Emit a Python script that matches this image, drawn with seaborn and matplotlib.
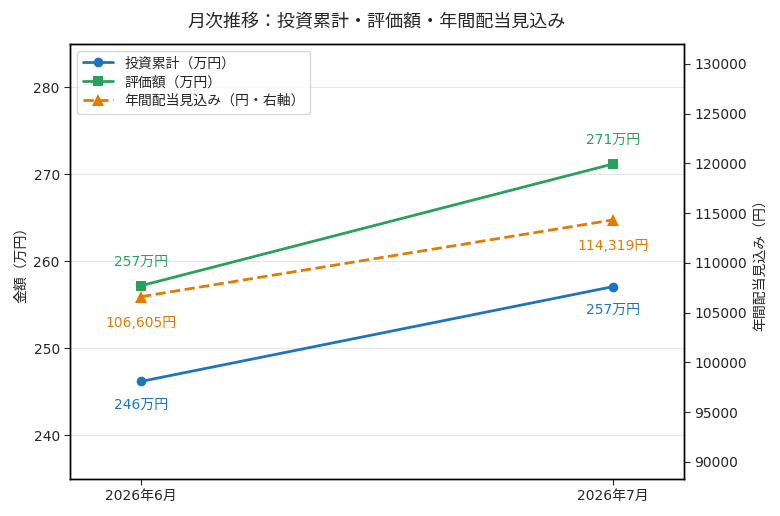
import pandas as pd
import matplotlib.pyplot as plt
import seaborn as sns

# chart data
months = ['2026年6月', '2026年7月']
invested = [246.2, 257.1]          # 投資累計 (万円)
valuation = [257.2, 271.2]         # 評価額 (万円)
dividend = [106605, 114319]        # 年間配当見込み (円)

sns.set_style('white')
plt.rcParams['font.family'] = ['DejaVu Sans', 'Noto Sans CJK JP']
plt.rcParams['axes.unicode_minus'] = False

blue = '#1f74c2'
green = '#2ba05b'
orange = '#e37b00'

df = pd.DataFrame({'month': months, 'invested': invested,
                   'valuation': valuation, 'dividend': dividend})

fig, ax = plt.subplots(figsize=(7.8, 5.16), dpi=100)
ax2 = ax.twinx()

sns.lineplot(data=df, x='month', y='invested', ax=ax, color=blue, marker='o',
             markersize=7, linewidth=2, markeredgewidth=0, label='投資累計（万円）', legend=False)
sns.lineplot(data=df, x='month', y='valuation', ax=ax, color=green, marker='s',
             markersize=7, linewidth=2, markeredgewidth=0, label='評価額（万円）', legend=False)
sns.lineplot(data=df, x='month', y='dividend', ax=ax2, color=orange, marker='^',
             markersize=8, linewidth=2, markeredgewidth=0, linestyle='--',
             label='年間配当見込み（円・右軸）', legend=False)

# value labels
for i, v in enumerate(invested):
    ax.annotate(f'{v:.0f}万円', (i, v), xytext=(0, -17), textcoords='offset points',
                ha='center', va='center', color=blue, fontsize=10)
for i, v in enumerate(valuation):
    ax.annotate(f'{v:.0f}万円', (i, v), xytext=(0, 17), textcoords='offset points',
                ha='center', va='center', color=green, fontsize=10)
for i, v in enumerate(dividend):
    ax2.annotate(f'{v:,}円', (i, v), xytext=(0, -19), textcoords='offset points',
                 ha='center', va='center', color=orange, fontsize=10)

ax.set_xlim(-0.15, 1.15)
ax.set_ylim(235, 285)
ax.set_yticks([240, 250, 260, 270, 280])
ax2.set_ylim(88300, 132000)
ax2.set_yticks(range(90000, 130001, 5000))

ax.yaxis.grid(True, color='#e6e6e6', linewidth=0.8)
ax.set_axisbelow(True)

ax.set_xlabel('')
ax.set_ylabel('金額（万円）', fontsize=10)
ax2.set_ylabel('年間配当見込み（円）', fontsize=10)
ax.tick_params(axis='both', labelsize=10, length=4, left=True, bottom=True)
ax2.tick_params(axis='y', labelsize=10, length=4, right=True)

for a in (ax, ax2):
    for s in a.spines.values():
        s.set_color('black')
        s.set_linewidth(1)

h1, l1 = ax.get_legend_handles_labels()
h2, l2 = ax2.get_legend_handles_labels()
ax.legend(h1 + h2, l1 + l2, loc='upper left', fontsize=10, frameon=True,
          edgecolor='#cccccc', handlelength=2.2, borderpad=0.4, labelspacing=0.35)

fig.suptitle('月次推移：投資累計・評価額・年間配当見込み', fontsize=13, y=0.975, x=0.483)
fig.subplots_adjust(left=0.09, right=0.877, top=0.915, bottom=0.072)
fig.savefig('out.png', dpi=100)
plt.close(fig)
